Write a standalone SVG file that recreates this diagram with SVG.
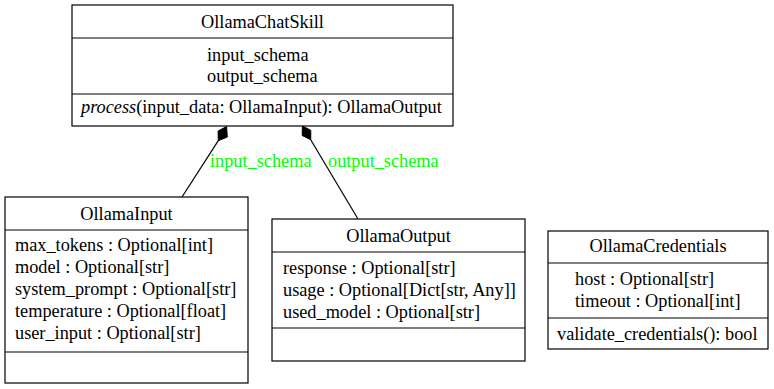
<svg xmlns="http://www.w3.org/2000/svg" width="774" height="389" viewBox="0 0 774 389">
  <style>
    text { font-family: "Liberation Serif", "DejaVu Serif", serif; font-size: 18.3px; fill: #000; }
    .c { text-anchor: middle; }
    .lbl { fill: #00ff00; }
    .box { fill: #fff; stroke: #000; stroke-width: 1.2; }
    .div { stroke: #000; stroke-width: 1.2; }
    .edge { stroke: #000; stroke-width: 1.2; fill: none; }
    .dia { fill: #000; stroke: #000; stroke-width: 1; }
  </style>
  <rect width="774" height="389" fill="#fff"/>

  <!-- composition connectors -->
  <g id="connectors">
    <path class="edge" d="M218.3,140.7 L182,197"/>
    <polygon class="dia" points="218.3,140.7 218.1,131 226.6,126.5 227.3,137"/>
    <text class="lbl" x="210" y="167">input_schema</text>
    <path class="edge" d="M310.7,139.7 L358,219"/>
    <polygon class="dia" points="310.7,139.7 310.8,130.3 302.4,126 302.2,135.5"/>
    <text class="lbl" x="328" y="167">output_schema</text>
  </g>

  <g id="OllamaChatSkill">
    <rect class="box" x="72" y="5" width="381" height="121"/>
    <line class="div" x1="72" y1="38" x2="453" y2="38"/>
    <line class="div" x1="72" y1="94" x2="453" y2="94"/>
    <text class="c" x="262.5" y="28">OllamaChatSkill</text>
    <text x="207" y="61">input_schema</text>
    <text x="207" y="82">output_schema</text>
    <text x="81" y="113"><tspan font-style="italic">process</tspan>(input_data: OllamaInput): OllamaOutput</text>
  </g>

  <g id="OllamaInput">
    <rect class="box" x="5" y="197" width="243" height="186"/>
    <line class="div" x1="5" y1="230" x2="248" y2="230"/>
    <line class="div" x1="5" y1="352" x2="248" y2="352"/>
    <text class="c" x="126.5" y="220">OllamaInput</text>
    <text x="15" y="251">max_tokens : Optional[int]</text>
    <text x="15" y="273">model : Optional[str]</text>
    <text x="15" y="295">system_prompt : Optional[str]</text>
    <text x="15" y="317">temperature : Optional[float]</text>
    <text x="15" y="339">user_input : Optional[str]</text>
  </g>

  <g id="OllamaOutput">
    <rect class="box" x="272" y="219" width="253" height="142"/>
    <line class="div" x1="272" y1="252" x2="525" y2="252"/>
    <line class="div" x1="272" y1="328" x2="525" y2="328"/>
    <text class="c" x="398.5" y="242">OllamaOutput</text>
    <text x="283" y="274">response : Optional[str]</text>
    <text x="283" y="296">usage : Optional[Dict[str, Any]]</text>
    <text x="283" y="318">used_model : Optional[str]</text>
  </g>

  <g id="OllamaCredentials">
    <rect class="box" x="548" y="231" width="220" height="118"/>
    <line class="div" x1="548" y1="263" x2="768" y2="263"/>
    <line class="div" x1="548" y1="318" x2="768" y2="318"/>
    <text class="c" x="658" y="252">OllamaCredentials</text>
    <text x="575" y="285">host : Optional[str]</text>
    <text x="575" y="307">timeout : Optional[int]</text>
    <text x="557" y="340">validate_credentials(): bool</text>
  </g>
</svg>
